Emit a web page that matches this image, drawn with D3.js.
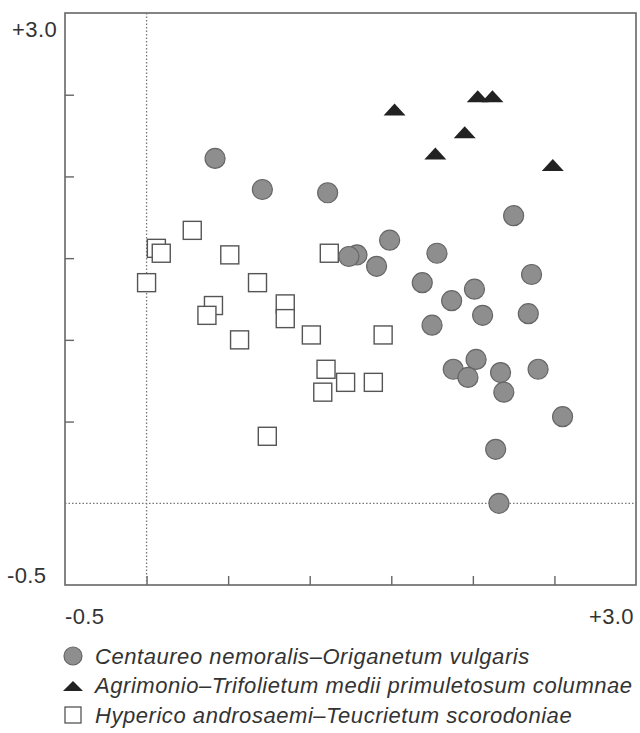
<!DOCTYPE html>
<html>
<head>
<meta charset="utf-8">
<script src="https://cdn.jsdelivr.net/npm/d3@7"></script>
<style>
  body { margin: 0; background: #fff; }
  text { font-family: "Liberation Sans", Arial, sans-serif; fill: #333; }
</style>
</head>
<body>
<script>
// Data: ordination scores
const centaureoX = [0.42, 0.71, 1.11, 1.49, 1.29, 1.24, 1.41, 1.78, 2.25, 1.69, 2.36, 2.01, 1.87,
                    2.06, 2.34, 1.75, 2.02, 1.88, 1.97, 2.17, 2.40, 2.19, 2.55, 2.14, 2.16];
const centaureoY = [2.11, 1.92, 1.90, 1.61, 1.52, 1.51, 1.45, 1.53, 1.76, 1.35, 1.40, 1.31, 1.24,
                    1.15, 1.16, 1.09, 0.88, 0.82, 0.77, 0.80, 0.82, 0.68, 0.53, 0.33, 0.00];

const agrimonioX = [1.52, 2.03, 2.12, 1.95, 1.77, 2.49];
const agrimonioY = [2.41, 2.49, 2.49, 2.27, 2.14, 2.07];

const hypericoX = [0.00, 0.06, 0.09, 0.28, 0.51, 0.68, 0.41, 0.37, 0.85, 0.85, 0.57, 1.01,
                   1.12, 1.10, 1.08, 1.22, 1.39, 1.45, 0.74];
const hypericoY = [1.35, 1.56, 1.53, 1.67, 1.52, 1.35, 1.21, 1.15, 1.22, 1.13, 1.00, 1.03,
                   1.53, 0.82, 0.68, 0.74, 0.74, 1.03, 0.41];

const legendLabels = [
  "Centaureo nemoralis\u2013Origanetum vulgaris",
  "Agrimonio\u2013Trifolietum medii primuletosum columnae",
  "Hyperico androsaemi\u2013Teucrietum scorodoniae"
];
const tickValues = [0, 0.5, 1, 1.5, 2, 2.5];
const domain = [-0.5, 3.0];

const width = 640, height = 733;
const plot = { left: 65, right: 636, top: 13, bottom: 585 };

const svg = d3.select("body")
    .append("svg")
    .attr("width", width)
    .attr("height", height);

const x = d3.scaleLinear().domain(domain).range([plot.left, plot.right]);
const y = d3.scaleLinear().domain(domain).range([plot.bottom, plot.top]);

// frame
svg.append("rect")
    .attr("x", plot.left)
    .attr("y", plot.top)
    .attr("width", plot.right - plot.left)
    .attr("height", plot.bottom - plot.top)
    .attr("fill", "none")
    .attr("stroke", "#666")
    .attr("stroke-width", 1.6);

// inward ticks
const xAxis = svg.append("g")
    .attr("transform", `translate(0,${plot.bottom})`)
    .call(d3.axisBottom(x).tickValues(tickValues).tickSize(-9).tickFormat(""));
const yAxis = svg.append("g")
    .attr("transform", `translate(${plot.left},0)`)
    .call(d3.axisLeft(y).tickValues(tickValues.slice(1)).tickSize(-9).tickFormat(""));
[xAxis, yAxis].forEach(a => {
  a.select(".domain").remove();
  a.selectAll("line").attr("stroke", "#666").attr("stroke-width", 1.4);
});

// dotted zero lines
svg.append("line")
    .attr("x1", x(0)).attr("x2", x(0))
    .attr("y1", plot.top).attr("y2", plot.bottom)
    .attr("stroke", "#777").attr("stroke-width", 1.3)
    .attr("stroke-dasharray", "1.5,2");
svg.append("line")
    .attr("x1", plot.left).attr("x2", plot.right)
    .attr("y1", y(0)).attr("y2", y(0))
    .attr("stroke", "#777").attr("stroke-width", 1.3)
    .attr("stroke-dasharray", "1.5,2");

// axis end labels
const labelSize = 22;
const endLabel = (xp, yp, s, anchor) => svg.append("text")
    .attr("x", xp).attr("y", yp)
    .attr("font-size", labelSize)
    .attr("letter-spacing", 0.4)
    .attr("text-anchor", anchor || "start")
    .text(s);
endLabel(12, y(3.0) + 24, "+3.0");
endLabel(7, y(-0.5) - 2, "-0.5");
endLabel(x(-0.5), 624, "-0.5");
endLabel(634, 624, "+3.0", "end");

// marks
const toPoints = (xs, ys) => xs.map((d, i) => ({ x: d, y: ys[i] }));

const sq = 18;
svg.append("g").selectAll("rect")
    .data(toPoints(hypericoX, hypericoY))
    .join("rect")
    .attr("x", d => x(d.x) - sq / 2)
    .attr("y", d => y(d.y) - sq / 2)
    .attr("width", sq).attr("height", sq)
    .attr("fill", "#fff")
    .attr("stroke", "#555")
    .attr("stroke-width", 1.4);

svg.append("g").selectAll("circle")
    .data(toPoints(centaureoX, centaureoY))
    .join("circle")
    .attr("cx", d => x(d.x))
    .attr("cy", d => y(d.y))
    .attr("r", 10)
    .attr("fill", "#8e8e8e")
    .attr("stroke", "#666")
    .attr("stroke-width", 1.2);

const tri = "M0,-6L11,6L-11,6Z";
svg.append("g").selectAll("path")
    .data(toPoints(agrimonioX, agrimonioY))
    .join("path")
    .attr("transform", d => `translate(${x(d.x)},${y(d.y)})`)
    .attr("d", tri)
    .attr("fill", "#222");

// legend
const legendY = [664, 693, 723];
const legend = svg.append("g");
legend.append("circle").attr("cx", 73).attr("cy", legendY[0] - 8).attr("r", 9)
    .attr("fill", "#8e8e8e").attr("stroke", "#666").attr("stroke-width", 1.2);
legend.append("path").attr("transform", `translate(73,${legendY[1] - 7})`)
    .attr("d", "M0,-5L10,5L-10,5Z").attr("fill", "#222");
legend.append("rect").attr("x", 65).attr("y", legendY[2] - 16).attr("width", 16).attr("height", 16)
    .attr("fill", "#fff").attr("stroke", "#555").attr("stroke-width", 1.3);
legend.selectAll("text.lab")
    .data(legendLabels)
    .join("text")
    .attr("class", "lab")
    .attr("x", 95)
    .attr("y", (d, i) => legendY[i])
    .attr("font-size", 22)
    .attr("letter-spacing", 0.55)
    .attr("font-style", "italic")
    .text(d => d);
</script>
</body>
</html>
